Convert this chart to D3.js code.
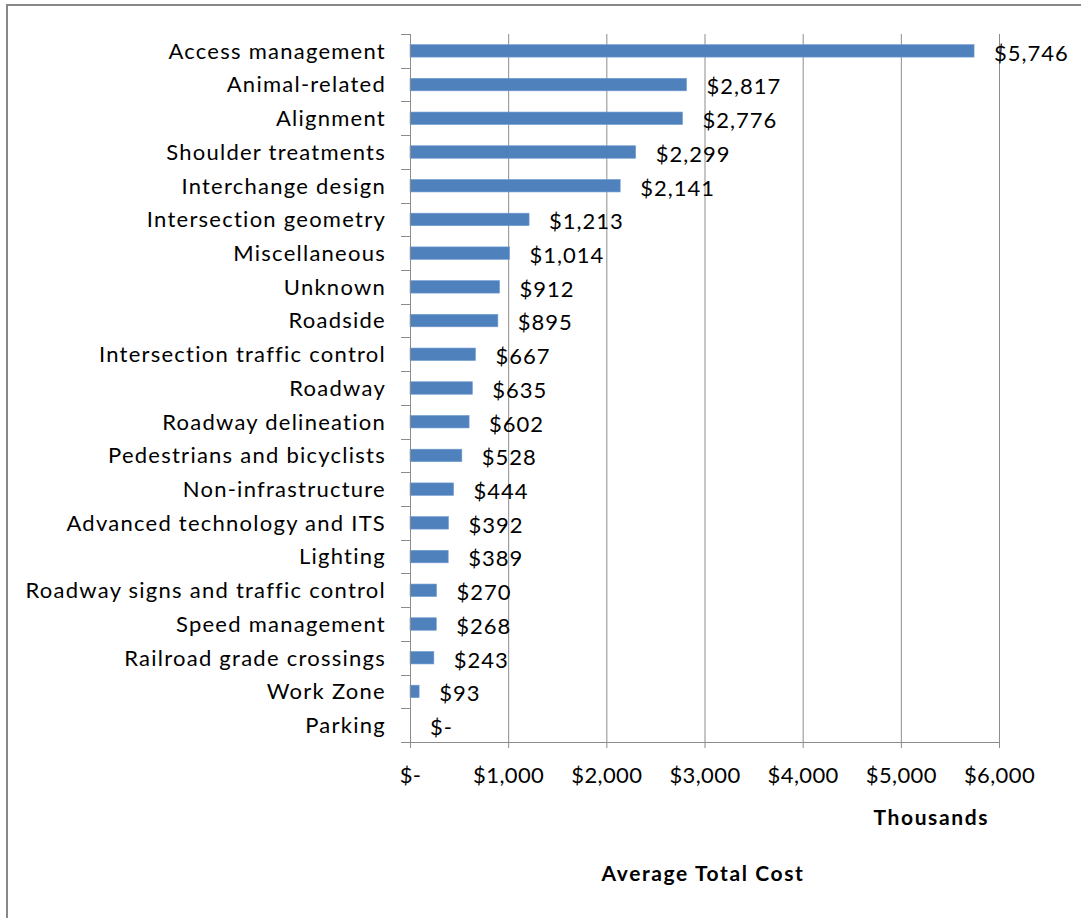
<!DOCTYPE html>
<html>
<head>
<meta charset="utf-8">
<script src="https://cdn.jsdelivr.net/npm/d3@7"></script>
<style>
  html, body { margin: 0; padding: 0; background: #fff; }
  svg { display: block; }
  text { font-family: Lato, "Open Sans", sans-serif; fill: #000; }
</style>
</head>
<body>
<svg id="chart" width="1081" height="918"></svg>
<script>
const categories = [
  "Access management", "Animal-related", "Alignment", "Shoulder treatments",
  "Interchange design", "Intersection geometry", "Miscellaneous", "Unknown",
  "Roadside", "Intersection traffic control", "Roadway", "Roadway delineation",
  "Pedestrians and bicyclists", "Non-infrastructure", "Advanced technology and ITS",
  "Lighting", "Roadway signs and traffic control", "Speed management",
  "Railroad grade crossings", "Work Zone", "Parking"
];
const values = [5746, 2817, 2776, 2299, 2141, 1213, 1014, 912, 895, 667, 635, 602,
  528, 444, 392, 389, 270, 268, 243, 93, 0];
const xTicks = [0, 1000, 2000, 3000, 4000, 5000, 6000];
const xTitle = "Thousands";
const chartTitle = "Average Total Cost";

const svg = d3.select("#chart");
const pL = 410, pR = 999, pT = 34, pB = 742;

// outer border (top and left)
svg.append("line").attr("x1", 6).attr("x2", 1081).attr("y1", 5).attr("y2", 5)
  .attr("stroke", "#888").attr("stroke-width", 2);
svg.append("line").attr("x1", 7).attr("x2", 7).attr("y1", 4).attr("y2", 918)
  .attr("stroke", "#888").attr("stroke-width", 2);

const x = d3.scaleLinear().domain([0, 6000]).range([pL, pR]);
const y = d3.scaleBand().domain(categories).range([pT, pB]).paddingInner(0.63).paddingOuter(0.315);
const yb = d3.scaleBand().domain(categories).range([pT, pB]);

const fmt = v => v === 0 ? "$-" : "$" + d3.format(",")(v);

// gridlines
svg.append("g").selectAll("line").data(xTicks.slice(1)).join("line")
  .attr("x1", d => x(d) + 0.5).attr("x2", d => x(d) + 0.5)
  .attr("y1", pT).attr("y2", pB)
  .attr("stroke", "#8c8c8c").attr("stroke-width", 1);

// bars
svg.append("g").selectAll("rect").data(values).join("rect")
  .attr("x", x(0))
  .attr("y", (d, i) => y(categories[i]))
  .attr("width", d => x(d) - x(0))
  .attr("height", y.bandwidth())
  .attr("fill", "#4f81bd")
  .attr("stroke", "#6f9bd1").attr("stroke-width", 0.6);

// x axis
const xAxis = svg.append("g").attr("transform", `translate(0,${pB})`)
  .call(d3.axisBottom(x).tickValues(xTicks).tickFormat(fmt).tickSizeInner(6).tickSizeOuter(0).tickPadding(19));
xAxis.select(".domain").attr("stroke", "#8c8c8c").attr("d", `M${pL - 9},0.5H${pR}`);
xAxis.selectAll(".tick line").attr("stroke", "#8c8c8c");
xAxis.selectAll("text").attr("font-size", 22).attr("letter-spacing", 0.4)
  .attr("font-family", "Lato, sans-serif").attr("fill", "#000");

// y axis (category boundaries ticks)
svg.append("line").attr("x1", pL + 0.5).attr("x2", pL + 0.5).attr("y1", pT).attr("y2", pB)
  .attr("stroke", "#8c8c8c");
const boundaries = categories.map(c => yb(c));
svg.append("g").selectAll("line").data(boundaries).join("line")
  .attr("x1", pL - 9).attr("x2", pL).attr("y1", d => Math.round(d) + 0.5).attr("y2", d => Math.round(d) + 0.5)
  .attr("stroke", "#8c8c8c");

// category labels
svg.append("g").selectAll("text").data(categories).join("text")
  .attr("x", 386)
  .attr("y", d => yb(d) + yb.bandwidth() / 2)
  .attr("dy", "0.36em")
  .attr("text-anchor", "end")
  .attr("font-size", 22)
  .attr("letter-spacing", 1.25)
  .text(d => d);

// value labels
svg.append("g").selectAll("text").data(values).join("text")
  .attr("x", d => x(d) + 20)
  .attr("y", (d, i) => yb(categories[i]) + yb.bandwidth() / 2 + 2)
  .attr("dy", "0.36em")
  .attr("font-size", 22)
  .attr("letter-spacing", 1)
  .text(d => fmt(d));

// axis titles
svg.append("text").attr("x", 989).attr("y", 825).attr("text-anchor", "end")
  .attr("font-size", 21).attr("letter-spacing", 1.6).attr("font-weight", "bold").text(xTitle);
svg.append("text").attr("x", 703).attr("y", 881).attr("text-anchor", "middle")
  .attr("font-size", 21).attr("letter-spacing", 1.6).attr("font-weight", "bold").text(chartTitle);
</script>
</body>
</html>
